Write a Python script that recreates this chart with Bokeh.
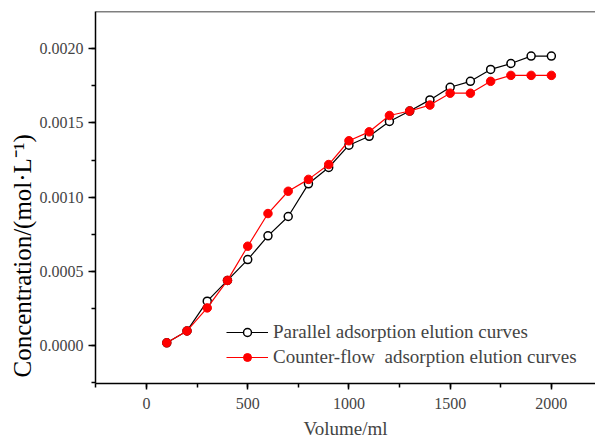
import numpy as np
from bokeh.plotting import figure
from bokeh.models import (Range1d, SingleIntervalTicker, PrintfTickFormatter,
                          Span, Title)
from bokeh.embed import file_html
from bokeh.resources import INLINE

volume = [100, 200, 300, 400, 500, 600, 700, 800, 900, 1000,
          1100, 1200, 1300, 1400, 1500, 1600, 1700, 1800, 1900, 2000]
parallel = [0.00002, 0.00010, 0.00030, 0.00044, 0.00058, 0.00074, 0.00087,
            0.00109, 0.00120, 0.00135, 0.00141, 0.00151, 0.00158, 0.001655,
            0.00174, 0.00178, 0.00186, 0.00190, 0.00195, 0.00195]
counter = [0.00002, 0.00010, 0.000255, 0.00044, 0.00067, 0.00089, 0.00104,
           0.00112, 0.00122, 0.00138, 0.00144, 0.00155, 0.00158, 0.00162,
           0.00170, 0.00170, 0.00178, 0.00182, 0.00182, 0.00182]
series_names = ["Parallel adsorption elution curves",
                "Counter-flow  adsorption elution curves"]
x_title = "Volume/ml"
y_title = "Concentration/(mol\u00b7L\u207b\u00b9)"

FONT = "Liberation Serif"
X0, X1 = -252, 2218
Y0, Y1 = -0.000254, 0.00225

p = figure(width=595, height=441, output_backend="svg", toolbar_location=None,
           x_range=Range1d(X0, X1), y_range=Range1d(Y0, Y1),
           min_border_left=95, min_border_right=0, min_border_top=11,
           min_border_bottom=58)
p.outline_line_color = None
p.grid.visible = False
p.background_fill_color = "white"
p.border_fill_color = "white"

xa = p.xaxis[0]
xa.ticker = SingleIntervalTicker(interval=500, num_minor_ticks=2)
xa.axis_label = x_title
xa.axis_label_text_font = FONT
xa.axis_label_text_font_size = "19px"
xa.axis_label_text_font_style = "normal"
xa.axis_label_standoff = 6
xa.major_label_text_font = FONT
xa.major_label_text_font_size = "16px"
xa.major_label_standoff = 8
xa.major_tick_out = 6
xa.major_tick_in = 0
xa.minor_tick_out = 4
xa.minor_tick_in = 0
xa.axis_line_width = 1.5
xa.major_tick_line_width = 1.5
xa.minor_tick_line_width = 1.5

ya = p.yaxis[0]
ya.ticker = SingleIntervalTicker(interval=0.0005, num_minor_ticks=2)
ya.formatter = PrintfTickFormatter(format="%.4f")
ya.major_label_text_font = FONT
ya.major_label_text_font_size = "16px"
ya.major_label_standoff = 5
ya.major_tick_out = 7
ya.major_tick_in = 0
ya.minor_tick_out = 4
ya.minor_tick_in = 0
ya.axis_line_width = 1.5
ya.major_tick_line_width = 1.5
ya.minor_tick_line_width = 1.5

p.add_layout(Span(location=Y1, dimension="width", line_color="black",
                  line_width=1.5))

p.line(volume, parallel, line_color="black", line_width=1.2,
       legend_label=series_names[0])
p.scatter(volume, parallel, size=8, marker="circle", fill_color="white",
          line_color="black", line_width=1.5, legend_label=series_names[0])
p.line(volume, counter, line_color="#ff0000", line_width=1.2,
       legend_label=series_names[1])
p.scatter(volume, counter, size=8.5, marker="circle", fill_color="#ff0000",
          line_color="#ff0000", line_width=1, legend_label=series_names[1])

ytitle = Title(text=y_title, align="left", offset=6, standoff=2,
               text_font=FONT, text_font_size="25px", text_font_style="normal",
               text_color="black")
p.add_layout(ytitle, "left")

lg = p.legend[0]
lg.location = (131, 15)
lg.border_line_color = None
lg.background_fill_alpha = 0
lg.padding = 0
lg.margin = 0
lg.spacing = 3
lg.glyph_width = 42
lg.glyph_height = 20
lg.label_height = 20
lg.label_standoff = 5
lg.label_text_font = FONT
lg.label_text_font_size = "19px"

open("out.html", "w").write(file_html(p, INLINE))
